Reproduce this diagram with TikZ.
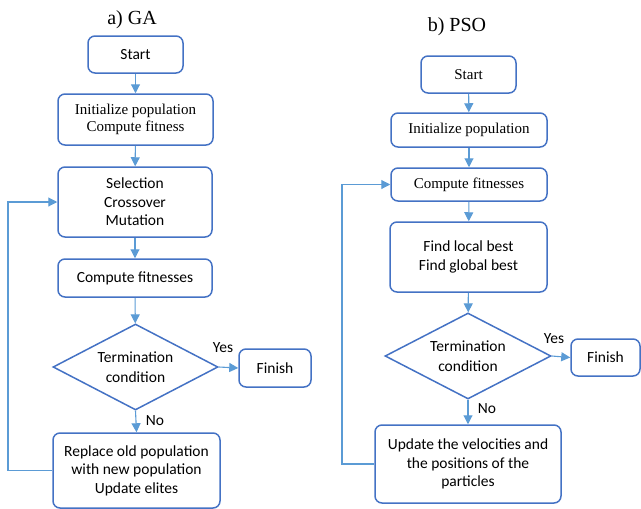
\documentclass[tikz,border=0pt]{standalone}
\usepackage{fontspec}
\setmainfont{Liberation Serif}
\newfontfamily\calib{Carlito}
\usetikzlibrary{shapes.geometric,arrows.meta}
\definecolor{boxblue}{HTML}{4472C4}
\definecolor{arrblue}{HTML}{5B9BD5}
\tikzset{
  box/.style={draw=boxblue, line width=1.5pt, rounded corners=7pt, align=center, inner sep=2pt},
  sans/.style={font=\calib\fontsize{15.5}{18.5}\selectfont},
  serif/.style={font=\fontsize{15}{17.5}\selectfont},
  dec/.style={draw=boxblue, line width=1.5pt, diamond, inner sep=0pt, align=center, font=\calib\fontsize{15.5}{19.5}\selectfont},
  arr/.style={draw=arrblue, line width=1.1pt, -{Triangle[length=9pt,width=9pt]}},
  lbl/.style={font=\calib\fontsize{15.5}{17}\selectfont},
  ttl/.style={font=\fontsize{20}{22}\selectfont},
}
\begin{document}
\begin{tikzpicture}[x=1pt,y=-1pt]
\useasboundingbox (0,0) rectangle (641,509);
% ---- GA ----
\node[ttl] (titleA) at (132,20) {a) GA};
\node[box,sans,minimum width=95pt,minimum height=37pt] (startA) at (135.5,54.5) {Start};
\node[box,serif,minimum width=155pt,minimum height=51pt] (initA) at (135.5,119.5) {Initialize population\\Compute fitness};
\node[box,sans,minimum width=154pt,minimum height=70pt] (selA) at (135,202) {Selection\\Crossover\\Mutation};
\node[box,sans,minimum width=154pt,minimum height=38pt] (fitA) at (135,278) {Compute fitnesses};
\node[dec,minimum width=165pt,minimum height=86pt,aspect=1.92] (decA) at (135.5,367) {Termination\\condition};
\node[box,sans,minimum width=72pt,minimum height=38pt] (finA) at (275,368) {Finish};
\node[box,sans,minimum width=167pt,minimum height=75pt] (repA) at (136.5,470.5) {Replace old population\\with new population\\Update elites};
\node[lbl] (yesA) at (223,348) {Yes};
\node[lbl] (noA) at (155,421) {No};
\coordinate (cA) at (8,470.5);
\draw[arr] (startA) -- (initA);
\draw[arr] (initA) -- (selA);
\draw[arr] (selA) -- (fitA);
\draw[arr] (fitA) -- (decA);
\draw[arr] (decA.east) -- (finA.west);
\draw[arr] (decA.south) -- (repA.north);
\draw[arr] (repA.west) -- (cA) |- (selA.west);
% ---- PSO ----
\node[ttl] (titleB) at (457,27) {b) PSO};
\node[box,serif,minimum width=95pt,minimum height=37pt] (startB) at (468.5,74.5) {Start};
\node[box,serif,minimum width=156pt,minimum height=34pt] (initB) at (469,130) {Initialize population};
\node[box,serif,minimum width=156pt,minimum height=33pt] (fitB) at (469,184.5) {Compute fitnesses};
\node[box,sans,minimum width=157pt,minimum height=70pt] (findB) at (468.5,257) {Find local best\\Find global best};
\node[dec,minimum width=166pt,minimum height=86pt,aspect=1.93] (decB) at (468,356) {Termination\\condition};
\node[box,sans,minimum width=69pt,minimum height=37pt] (finB) at (605.5,357.5) {Finish};
\node[box,sans,minimum width=186pt,minimum height=78pt] (updB) at (468,464) {Update the velocities and\\the positions of the\\particles};
\node[lbl] (yesB) at (554,339) {Yes};
\node[lbl] (noB) at (487,409) {No};
\coordinate (cB) at (342,464);
\draw[arr] (startB) -- (initB);
\draw[arr] (initB) -- (fitB);
\draw[arr] (fitB) -- (findB);
\draw[arr] (findB) -- (decB);
\draw[arr] (decB.east) -- (finB.west);
\draw[arr] (decB.south) -- (updB.north);
\draw[arr] (updB.west) -- (cB) |- (fitB.west);
\end{tikzpicture}
\end{document}
